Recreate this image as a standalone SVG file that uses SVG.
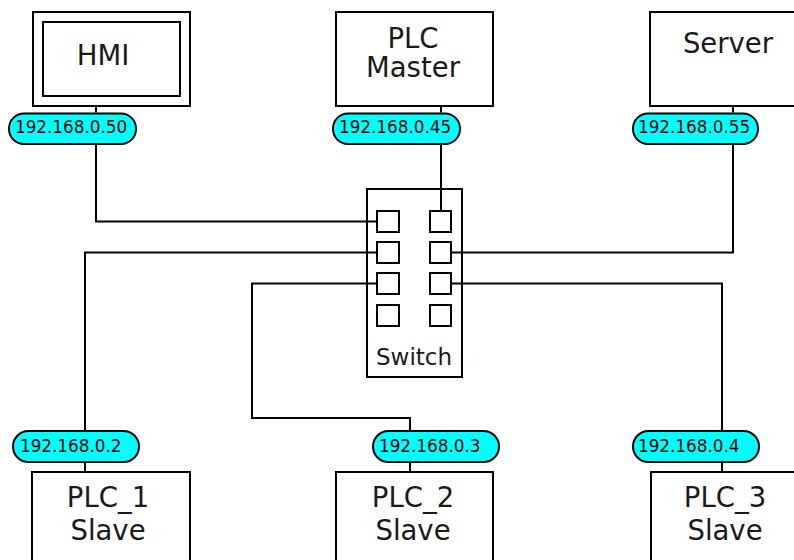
<svg xmlns="http://www.w3.org/2000/svg" width="794" height="560" viewBox="0 0 794 560">
<style>
.box{fill:#fff;stroke:#000;stroke-width:2}
.port{fill:#fff;stroke:#000;stroke-width:2}
.ip{fill:#00ffff;stroke:#000;stroke-width:2}
.wire{fill:none;stroke:#000;stroke-width:2}
.t{font-family:"DejaVu Sans",Verdana,sans-serif;fill:#1a1a1a;text-anchor:middle}
.big{font-size:27.5px}
.iptxt{font-family:"DejaVu Sans",Verdana,sans-serif;font-size:16.8px;fill:#000}
</style>
<rect width="794" height="560" fill="#fff"/>
<g id="hmi">
<rect class="box" x="33" y="12" width="157" height="94"/>
<rect class="box" x="43" y="22" width="137" height="74"/>
<text class="t big" x="103" y="65">HMI</text>
</g>
<g id="plc-master">
<rect class="box" x="336" y="12" width="157" height="94"/>
<text class="t big" x="413" y="48">PLC</text>
<text class="t big" x="413" y="77">Master</text>
</g>
<g id="server">
<rect class="box" x="650" y="12" width="157" height="94"/>
<text class="t big" x="728" y="53">Server</text>
</g>
<g id="ip-hmi">
<rect class="ip" x="9" y="113.5" width="127" height="30.5" rx="15"/>
<text class="iptxt" x="15" y="133">192.168.0.50</text>
</g>
<g id="ip-master">
<rect class="ip" x="333" y="113.5" width="127" height="30.5" rx="15"/>
<text class="iptxt" x="339" y="133">192.168.0.45</text>
</g>
<g id="ip-server">
<rect class="ip" x="633" y="113.5" width="125" height="30.5" rx="15"/>
<text class="iptxt" x="638" y="133">192.168.0.55</text>
</g>
<g id="switch">
<rect class="box" x="367" y="189" width="95" height="188"/>
<rect class="port" x="377" y="211" width="22" height="21"/>
<rect class="port" x="430" y="211" width="21" height="21"/>
<rect class="port" x="377" y="242" width="22" height="21"/>
<rect class="port" x="430" y="242" width="21" height="21"/>
<rect class="port" x="377" y="273" width="22" height="21"/>
<rect class="port" x="430" y="273" width="21" height="21"/>
<rect class="port" x="377" y="305" width="22" height="21"/>
<rect class="port" x="430" y="305" width="21" height="21"/>
<text class="t" x="414" y="365" font-size="23">Switch</text>
</g>
<g id="ip-plc1">
<rect class="ip" x="13" y="431" width="126" height="31" rx="15.5"/>
<text class="iptxt" x="20" y="452">192.168.0.2</text>
</g>
<g id="ip-plc2">
<rect class="ip" x="373" y="431" width="126" height="31" rx="15.5"/>
<text class="iptxt" x="379" y="452">192.168.0.3</text>
</g>
<g id="ip-plc3">
<rect class="ip" x="633" y="431" width="126" height="31" rx="15.5"/>
<text class="iptxt" x="638" y="452">192.168.0.4</text>
</g>
<g id="plc1">
<rect class="box" x="32" y="472" width="158" height="100"/>
<text class="t big" x="108" y="507">PLC_1</text>
<text class="t big" x="108" y="540">Slave</text>
</g>
<g id="plc2">
<rect class="box" x="336" y="472" width="157" height="100"/>
<text class="t big" x="413" y="507">PLC_2</text>
<text class="t big" x="413" y="540">Slave</text>
</g>
<g id="plc3">
<rect class="box" x="651" y="472" width="157" height="100"/>
<text class="t big" x="725" y="507">PLC_3</text>
<text class="t big" x="725" y="540">Slave</text>
</g>
<g id="connectors">
<polyline class="wire" points="96,107 96,112.5"/>
<polyline class="wire" points="96,145 96,221.5 376,221.5"/>
<polyline class="wire" points="441,107 441,112.5"/>
<polyline class="wire" points="441,145 441,210"/>
<polyline class="wire" points="733,107 733,112.5"/>
<polyline class="wire" points="733,145 733,252.5 452,252.5"/>
<polyline class="wire" points="376,252.5 85,252.5 85,430"/>
<polyline class="wire" points="85,463 85,471"/>
<polyline class="wire" points="376,283.5 252,283.5 252,418 410,418 410,430"/>
<polyline class="wire" points="410,463 410,471"/>
<polyline class="wire" points="452,283.5 722,283.5 722,430"/>
<polyline class="wire" points="722,463 722,471"/>
</g>
</svg>
